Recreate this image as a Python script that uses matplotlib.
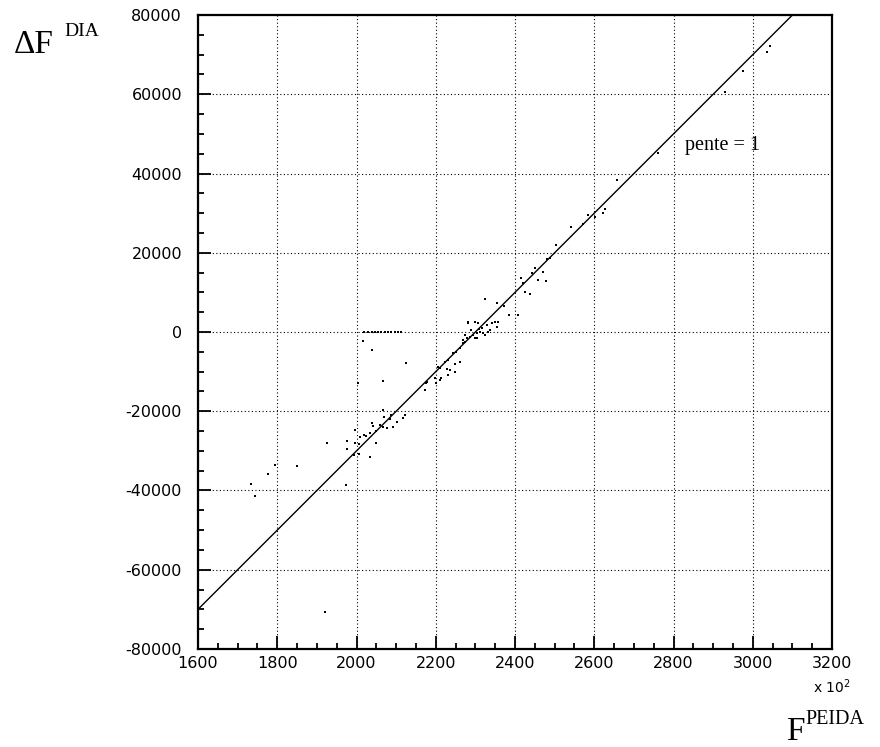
#!/usr/bin/env python3
"""Delta F (DIA) versus F (PEIDA) scatter with the slope-1 reference line."""
import matplotlib
matplotlib.use("Agg")
import matplotlib.pyplot as plt
from matplotlib.ticker import MultipleLocator

plt.rcParams["axes.unicode_minus"] = False

# F^PEIDA in units of 10^2, Delta F^DIA
x_peida = [1734, 1744, 1777, 1794, 1850, 1920, 1926, 1974, 1976, 1976,
           1994, 1996, 1996, 2006, 2006, 2009, 2020, 2024,
           2034, 2034, 2039, 2042, 2049, 2050, 2059, 2067, 2067, 2070,
           2077, 2085, 2087, 2092, 2102, 2117, 2122,
           2004, 2016, 2039, 2066, 2125,
           2020, 2030, 2038, 2046, 2055, 2063, 2072, 2080, 2088, 2097, 2105, 2112,
           2173, 2175, 2178, 2198, 2201, 2206, 2210, 2211, 2213, 2223, 2228,
           2230, 2231, 2236, 2244, 2248, 2248, 2250, 2260, 2261,
           2269, 2269, 2274, 2274, 2279, 2281, 2281, 2286, 2290, 2294, 2299,
           2299, 2304, 2304, 2307, 2310, 2312, 2317, 2319, 2324, 2325, 2329,
           2332, 2337, 2342, 2349, 2354, 2354, 2357, 2372, 2385,
           2407, 2415, 2420, 2425, 2438, 2443, 2451, 2459, 2471, 2478, 2481,
           2488, 2503, 2541, 2571, 2584, 2602, 2622, 2627, 2657, 2761, 2930,
           2975, 3036, 3043]
y_dia = [-38400, -41400, -35800, -33600, -33800, -70700, -28000, -38600, -27600, -29500,
         -31000, -24700, -28000, -28300, -30800, -26500, -26000, -26200,
         -25500, -31500, -23000, -23700, -28000, -25000, -23500, -19700, -24000, -21500,
         -24200, -22000, -20900, -24000, -22700, -21700, -20900,
         -12800, -2300, -4500, -12400, -7800,
         0, 0, 0, 0, 0, 0, 0, 0, 0, 0, 0, 0,
         -14600, -12900, -12600, -11600, -12900, -8800, -9000, -12100, -11600, -7600, -9300,
         -7000, -10900, -9600, -5300, -8100, -10100, -5000, -4000, -7600,
         -2800, -2000, -2500, -800, -1500, 2300, 2500, -1200, 500, -800, 2500,
         -1500, -300, -1500, 2300, 800, 0, 1000, -300, 8300, -800, 1800,
         0, 500, 2300, 2500, 1300, 7300, 2500, 6600, 4300,
         4300, 13600, 12400, 10100, 9600, 14900, 16100, 13100, 15100, 12900, 18400,
         18700, 22000, 26500, 27300, 29500, 29000, 30000, 31000, 38400, 45200, 60600,
         65900, 70700, 72200]

# reference line: slope 1 once x is scaled by 10^2
slope = 1 * 100
x0 = 2300

fig = plt.figure(figsize=(8.8, 7.47), dpi=100)
ax = fig.add_axes([0.225, 0.1312, 0.7205, 0.8487])

ax.scatter(x_peida, y_dia, s=2.2, color="k", marker="s", linewidths=0, zorder=3)
ax.axline((x0, 0), slope=slope, color="k", lw=1.0, zorder=2)

ax.set_xlim(1600, 3200)
ax.set_ylim(-80000, 80000)
ax.xaxis.set_major_locator(MultipleLocator(200))
ax.xaxis.set_minor_locator(MultipleLocator(50))
ax.yaxis.set_major_locator(MultipleLocator(20000))
ax.yaxis.set_minor_locator(MultipleLocator(5000))
ax.grid(True, which="major", color="k", lw=0.8, ls=(0, (1, 2.2)))

ax.tick_params(which="both", direction="in", top=False, right=False, width=1.3)
ax.tick_params(which="major", length=9.5, labelsize=11.5)
ax.tick_params(axis="x", which="major", pad=5)
ax.tick_params(axis="y", which="major", pad=11.5)
ax.tick_params(which="minor", length=4.5)
for sp in ax.spines.values():
    sp.set_linewidth(1.6)

ax.text(1.0, -0.045, r"x 10$^{2}$", transform=ax.transAxes, fontsize=10,
        ha="center", va="top")

serif = "Liberation Serif"
ax.text(2830, 47000, "pente = 1", family=serif, fontsize=14.5, va="center")

fig.text(14 / 880, 1 - 53 / 747, "\u0394F", family=serif, fontsize=24, va="baseline")
fig.text(64 / 880, 1 - 36 / 747, "DIA", family=serif, fontsize=14, va="baseline")
fig.text(786 / 880, 1 - 740 / 747, "F", family=serif, fontsize=24, va="baseline")
fig.text(805 / 880, 1 - 724 / 747, "PEIDA", family=serif, fontsize=14.5, va="baseline")

fig.savefig("out.png", dpi=100)
